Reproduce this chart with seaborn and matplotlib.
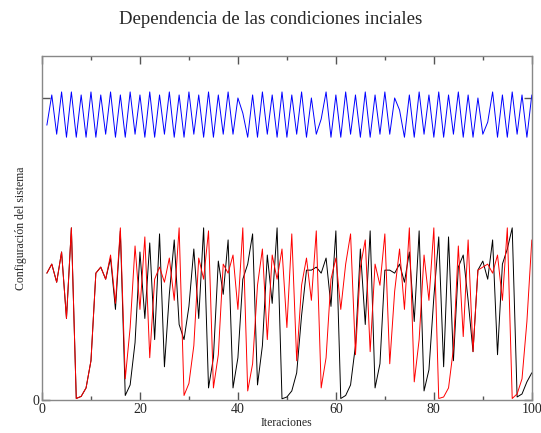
import numpy as np
import pandas as pd
import matplotlib
matplotlib.use("Agg")
import matplotlib.pyplot as plt
import seaborn as sns

# iteraciones 1..100
iteraciones = list(range(1, 101))

# serie azul (casi periodo 2)
azul = [0.91, 1.01, 0.88, 1.02, 0.87, 1.02, 0.87, 1.01, 0.87, 1.02,
        0.87, 1.01, 0.88, 1.02, 0.87, 1.01, 0.87, 1.02, 0.88, 1.01,
        0.87, 1.02, 0.87, 1.01, 0.88, 1.02, 0.87, 1.01, 0.87, 1.02,
        0.88, 1.01, 0.87, 1.02, 0.87, 1.01, 0.88, 1.02, 0.88, 1.00,
        0.95, 0.87, 1.01, 0.87, 1.02, 0.88, 1.01, 0.87, 1.02, 0.87,
        1.01, 0.88, 1.02, 0.87, 1.00, 0.88, 0.93, 1.02, 0.87, 1.01,
        0.87, 1.02, 0.88, 1.01, 0.87, 1.02, 0.87, 1.01, 0.88, 1.02,
        0.88, 1.00, 0.96, 0.87, 1.01, 0.87, 1.02, 0.88, 1.01, 0.87,
        1.02, 0.87, 1.01, 0.88, 1.02, 0.87, 1.01, 0.87, 1.00, 0.88,
        0.92, 1.02, 0.87, 1.01, 0.87, 1.02, 0.88, 1.01, 0.87, 1.01]

# serie negra
negra = [0.42, 0.45, 0.39, 0.49, 0.27, 0.57, 0.005, 0.012, 0.04, 0.13,
         0.42, 0.44, 0.40, 0.47, 0.30, 0.56, 0.015, 0.05, 0.19, 0.49,
         0.27, 0.52, 0.20, 0.55, 0.11, 0.35, 0.53, 0.25, 0.20, 0.31,
         0.50, 0.27, 0.57, 0.04, 0.14, 0.46, 0.35, 0.53, 0.04, 0.14,
         0.40, 0.45, 0.55, 0.05, 0.18, 0.48, 0.32, 0.57, 0.004, 0.01,
         0.03, 0.09, 0.28, 0.43, 0.43, 0.44, 0.42, 0.47, 0.31, 0.56,
         0.005, 0.015, 0.05, 0.18, 0.50, 0.25, 0.56, 0.04, 0.12, 0.43,
         0.43, 0.42, 0.45, 0.39, 0.49, 0.26, 0.56, 0.03, 0.10, 0.34,
         0.54, 0.11, 0.54, 0.13, 0.44, 0.48, 0.33, 0.16, 0.43, 0.46,
         0.40, 0.53, 0.15, 0.45, 0.50, 0.57, 0.01, 0.02, 0.06, 0.09]

# serie roja
roja = [0.42, 0.45, 0.39, 0.49, 0.27, 0.57, 0.005, 0.012, 0.04, 0.13,
        0.42, 0.44, 0.40, 0.48, 0.32, 0.57, 0.07, 0.24, 0.51, 0.30,
        0.54, 0.14, 0.40, 0.44, 0.39, 0.47, 0.33, 0.57, 0.015, 0.055,
        0.18, 0.47, 0.40, 0.56, 0.04, 0.15, 0.45, 0.42, 0.48, 0.30,
        0.57, 0.03, 0.12, 0.38, 0.50, 0.20, 0.48, 0.40, 0.50, 0.24,
        0.55, 0.13, 0.38, 0.47, 0.33, 0.56, 0.04, 0.14, 0.40, 0.47,
        0.30, 0.45, 0.55, 0.15, 0.44, 0.53, 0.16, 0.45, 0.38, 0.55,
        0.12, 0.36, 0.50, 0.30, 0.57, 0.06, 0.20, 0.48, 0.33, 0.57,
        0.005, 0.01, 0.04, 0.17, 0.51, 0.21, 0.53, 0.16, 0.43, 0.44,
        0.45, 0.42, 0.48, 0.33, 0.57, 0.005, 0.02, 0.07, 0.26, 0.53]

sns.set_style("ticks")
plt.rcParams['font.family'] = ['Liberation Serif', 'DejaVu Serif']

fig = plt.figure(figsize=(5.41, 4.33), dpi=100)
ax = fig.add_axes([0.0776, 0.0762, 0.9054, 0.7945])

sns.lineplot(x=iteraciones, y=azul, color='#0000ff', linewidth=0.7, ax=ax)
sns.lineplot(x=iteraciones, y=negra, color='black', linewidth=0.7, ax=ax)
sns.lineplot(x=iteraciones, y=roja, color='#ff0000', linewidth=0.7, ax=ax)

ax.set_xlim(0, 100)
ax.set_ylim(0, 1.139)
ax.set_xticks([0, 20, 40, 60, 80, 100])
ax.set_xticks([10, 30, 50, 70, 90], minor=True)
ax.set_yticks([0, 1])
ax.set_yticklabels(['0', ''])
ax.tick_params(direction='in', top=True, right=True, length=6, width=1,
               color='#555555', labelsize=10, pad=2)
ax.tick_params(which='minor', direction='in', top=True, length=3, width=1,
               color='#555555')
for s in ax.spines.values():
    s.set_color('#888888')
    s.set_linewidth(1)

ax.set_xlabel("Iteraciones", fontsize=8.5, labelpad=1)
ax.set_ylabel("Configuración del sistema", fontsize=8.5, labelpad=4)
fig.suptitle("Dependencia de las condiciones inciales", fontsize=13.5, y=0.975)

fig.savefig("out.png", dpi=100)
